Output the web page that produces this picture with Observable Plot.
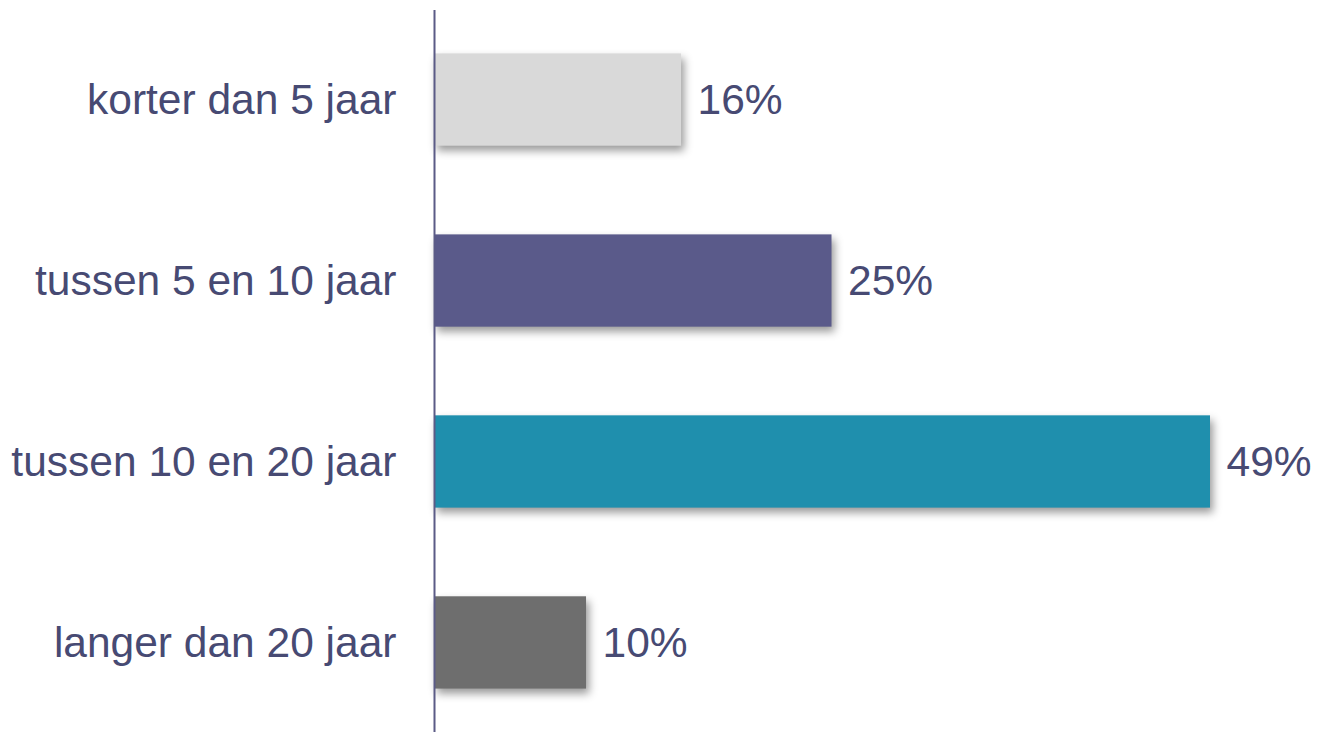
<!DOCTYPE html>
<html>
<head>
<meta charset="utf-8">
<script src="https://cdn.jsdelivr.net/npm/d3@7"></script>
<script src="https://cdn.jsdelivr.net/npm/@observablehq/plot@0.6"></script>
<style>
  html, body { margin: 0; padding: 0; background: #fff; }
  #chart svg { display: block; }
</style>
</head>
<body>
<div id="chart"></div>
<script>
const categories = ["korter dan 5 jaar", "tussen 5 en 10 jaar", "tussen 10 en 20 jaar", "langer dan 20 jaar"];
const values = [15.6, 25.1, 49.0, 9.6];
const colors = ["#d9d9d9", "#5a5a8a", "#1f8fad", "#6e6e6e"];

const data = categories.map((c, i) => ({category: c, value: values[i], color: colors[i]}));
const textColor = "#474a73";

const chart = Plot.plot({
  width: 1321,
  height: 735,
  marginTop: 10,
  marginBottom: 3,
  marginLeft: 434,
  marginRight: 111,
  style: {fontFamily: "Arial, 'Liberation Sans', sans-serif", background: "#fff"},
  x: {domain: [0, 49], axis: null},
  y: {domain: categories, paddingInner: 0.49, paddingOuter: 0.24, round: false, axis: null},
  marks: [
    Plot.barX(data, {y: "category", x: "value", fill: "color"}),
    Plot.ruleX([0], {stroke: "#5b5b86", strokeWidth: 2}),
    Plot.text(data, {
      y: "category", x: 0, text: "category",
      textAnchor: "end", dx: -38, fill: textColor, fontSize: 42.5
    }),
    Plot.text(data, {
      y: "category", x: "value", text: d => d3.format(".0f")(d.value) + "%",
      textAnchor: "start", dx: 16, fill: textColor, fontSize: 42.5
    })
  ]
});

d3.select(chart).selectAll("g[aria-label='bar'] rect")
  .style("filter", "drop-shadow(3px 5px 4px rgba(0,0,0,0.4))");

document.getElementById("chart").appendChild(chart);
</script>
</body>
</html>
